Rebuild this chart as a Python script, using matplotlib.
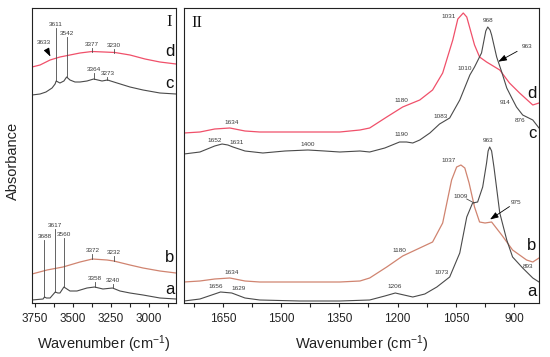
import matplotlib
matplotlib.use("Agg")
import matplotlib.pyplot as plt
from matplotlib.ticker import MultipleLocator

plt.rcParams['font.family'] = ['Liberation Sans', 'DejaVu Sans']
plt.rcParams['mathtext.fontset'] = 'custom'
plt.rcParams['mathtext.rm'] = 'Liberation Sans'
plt.rcParams['mathtext.it'] = 'Liberation Sans:italic'

# ---------------- Panel I (OH region) ----------------
wn_I_d = [3770, 3717, 3651, 3586, 3520, 3454, 3375, 3296, 3224, 3125, 3026, 2928, 2822]
abs_I_d = [236, 238, 243, 246, 248, 250, 251.5, 251, 250.5, 248, 244, 241, 239]

wn_I_c = [3770, 3717, 3678, 3638, 3618, 3611, 3586, 3560, 3542, 3520, 3487, 3454, 3408,
          3364, 3309, 3273, 3210, 3125, 3039, 2928, 2822]
abs_I_c = [208, 209, 211, 215, 219, 222, 220, 222, 226, 223, 221, 221, 222,
           224, 222, 223, 220, 216, 213, 210, 209]

wn_I_b = [3770, 3671, 3566, 3454, 3372, 3276, 3232, 3125, 3039, 2928, 2822]
abs_I_b = [29, 33, 36, 41, 44, 43, 42, 38, 35, 32, 30]

wn_I_a = [3770, 3697, 3688, 3675, 3651, 3617, 3600, 3586, 3560, 3520, 3474, 3408, 3358,
          3303, 3240, 3191, 3125, 3039, 2928, 2822]
abs_I_a = [3, 4, 6, 5, 5, 11, 10, 10, 16, 12, 12, 15, 16,
           14, 15, 12, 10, 8, 5, 4]

# ---------------- Panel II (fingerprint region) ----------------
wn_II_d = [1750, 1709, 1671, 1632, 1593, 1555, 1452, 1349, 1297, 1272, 1228, 1187, 1143,
           1110, 1084, 1058, 1045, 1031, 1022, 1012, 1002, 989, 971, 937, 912, 886, 852, 836]
abs_II_d = [170, 171, 174, 175, 172, 171, 171, 171, 173, 175, 186, 196, 203,
            213, 230, 263, 284, 290, 286, 272, 258, 246, 241, 233, 220, 210, 198, 200]

wn_II_c = [1750, 1709, 1671, 1652, 1637, 1624, 1593, 1547, 1490, 1431, 1388, 1349, 1297,
           1272, 1233, 1195, 1177, 1161, 1143, 1117, 1092, 1066, 1040, 1014, 1002, 984,
           973, 968, 962, 958, 945, 932, 919, 906, 894, 878, 852, 836]
abs_II_c = [149, 151, 157, 159, 158, 156, 152, 150, 152, 153, 152, 151, 152,
            151, 155, 161, 161, 160, 163, 170, 179, 185, 203, 228, 236, 250,
            272, 276, 273, 268, 246, 231, 215, 205, 196, 188, 183, 175]

wn_II_b = [1750, 1709, 1671, 1632, 1593, 1555, 1452, 1349, 1297, 1272, 1228, 1187, 1143,
           1110, 1084, 1061, 1048, 1037, 1027, 1016, 1002, 989, 975, 958, 932, 904, 868,
           852, 836]
abs_II_b = [21, 22, 24, 25, 22, 21, 21, 21, 22, 25, 36, 47, 55,
            61, 80, 123, 136, 138, 135, 120, 96, 81, 80, 81, 68, 53, 43,
            41, 45]

wn_II_a = [1750, 1709, 1671, 1656, 1627, 1593, 1555, 1452, 1349, 1272, 1233, 1206, 1195,
           1161, 1130, 1099, 1066, 1040, 1022, 1007, 994, 981, 971, 967, 963, 958, 952,
           937, 919, 904, 878, 852, 836]
abs_II_a = [2, 4, 9, 11, 10, 5, 3, 2, 2, 3, 7, 10, 9,
            6, 9, 16, 26, 50, 86, 100, 101, 116, 140, 152, 156, 152, 136,
            90, 63, 46, 35, 25, 21]

xticks_I = [3750, 3500, 3250, 3000]
xticks_II = [1650, 1500, 1350, 1200, 1050, 900]

GRAY = '#4a4a4a'
RED_D = '#f0506a'
RED_B = '#d08470'
LBL = '#3a3a3a'

fig = plt.figure(figsize=(5.5, 3.57), dpi=100)
axI = fig.add_axes([32/550, 1-303/357, 144/550, 295/357])
axII = fig.add_axes([184/550, 1-303/357, 355/550, 295/357])

axI.plot(wn_I_d, abs_I_d, color=RED_D, lw=0.9)
axI.plot(wn_I_c, abs_I_c, color=GRAY, lw=0.8)
axI.plot(wn_I_b, abs_I_b, color=RED_B, lw=0.9)
axI.plot(wn_I_a, abs_I_a, color=GRAY, lw=0.8)

axII.plot(wn_II_d, abs_II_d, color=RED_D, lw=0.9)
axII.plot(wn_II_c, abs_II_c, color=GRAY, lw=0.8)
axII.plot(wn_II_b, abs_II_b, color=RED_B, lw=0.9)
axII.plot(wn_II_a, abs_II_a, color=GRAY, lw=0.8)

axI.set_xlim(3770, 2822)
axII.set_xlim(1750, 836)
for ax in (axI, axII):
    ax.set_ylim(0, 295)
    ax.set_yticks([])
    ax.tick_params(axis='x', which='both', direction='out', length=3, width=0.8,
                   labelsize=8.5, pad=4.5, colors='#222222')
    ax.set_xlabel(r'Wavenumber (cm$^{\mathregular{-1}}$)', fontsize=10.5, labelpad=6,
                  color='#222222')
    for s in ax.spines.values():
        s.set_linewidth(0.8)
        s.set_color('#222222')

axI.set_xticks(xticks_I)
axI.xaxis.set_minor_locator(MultipleLocator(125))
axII.set_xticks(xticks_II)
axII.xaxis.set_minor_locator(MultipleLocator(75))

fig.text(13/550, 1-161/357, 'Absorbance', rotation=90, ha='center', va='center',
         fontsize=10.5, color='#222222')

FS = 4.6

def vline_label(ax, txt, x, ytxt, ycurve):
    ax.text(x, ytxt, txt, ha='center', va='bottom', fontsize=FS, color=LBL)
    ax.plot([x, x], [ytxt - 1, ycurve], color=GRAY, lw=0.6)

def label(ax, txt, x, y, fs=FS, **kw):
    ax.text(x, y, txt, ha='center', va='center', fontsize=fs, color=kw.pop('color', LBL), **kw)

# Panel I annotations
vline_label(axI, '3611', 3611, 276, 222)
vline_label(axI, '3542', 3542, 267, 226)
vline_label(axI, '3377', 3377, 256, 251.5)
vline_label(axI, '3230', 3230, 255, 250.5)
vline_label(axI, '3364', 3364, 231, 224)
vline_label(axI, '3273', 3273, 227, 223)
vline_label(axI, '3688', 3688, 64, 6)
vline_label(axI, '3617', 3617, 75, 11)
vline_label(axI, '3560', 3560, 66, 16)
vline_label(axI, '3372', 3372, 50, 44)
vline_label(axI, '3232', 3232, 48, 42)
vline_label(axI, '3358', 3358, 22, 16)
vline_label(axI, '3240', 3240, 20, 15)
label(axI, '3633', 3691, 260)
axI.annotate('', xy=(3640, 244), xytext=(3682, 256),
             arrowprops=dict(arrowstyle='-|>,head_length=0.5,head_width=0.18',
                             color='black', lw=0.6))
label(axI, 'd', 2865, 251, fs=12, color='#111111')
label(axI, 'c', 2865, 220, fs=12, color='#111111')
label(axI, 'b', 2865, 45, fs=12, color='#111111')
label(axI, 'a', 2865, 14, fs=12, color='#111111')
axI.text(2870, 281, 'I', ha='center', va='center', fontsize=12,
         family=['Liberation Serif', 'DejaVu Serif'], color='#111111')

# Panel II annotations
label(axII, '1634', 1627, 180)
label(axII, '1652', 1671, 163)
label(axII, '1631', 1615, 160)
label(axII, '1400', 1431, 159)
label(axII, '1180', 1189, 203)
label(axII, '1190', 1189, 168)
label(axII, '1083', 1089, 186)
label(axII, '1010', 1027, 235)
label(axII, '1031', 1068, 287)
label(axII, '968', 966, 283)
label(axII, '963', 868, 256)
axII.annotate('', xy=(947, 240), xytext=(886, 253),
              arrowprops=dict(arrowstyle='-|>,head_length=0.5,head_width=0.18',
                              color='black', lw=0.6))
label(axII, '914', 924, 201)
label(axII, '876', 886, 182)
label(axII, '1634', 1627, 31)
label(axII, '1656', 1668, 16)
label(axII, '1629', 1609, 14)
label(axII, '1180', 1195, 53)
label(axII, '1206', 1207, 17)
label(axII, '1073', 1086, 30)
label(axII, '1037', 1068, 143)
label(axII, '963', 966, 162)
label(axII, '1009', 1037, 106)
axII.plot([1022, 1003], [104, 100], color=GRAY, lw=0.6)
label(axII, '975', 894, 100)
axII.annotate('', xy=(968, 82), xytext=(906, 98),
              arrowprops=dict(arrowstyle='-|>,head_length=0.5,head_width=0.18',
                              color='black', lw=0.6))
label(axII, '893', 865, 36)
label(axII, 'd', 855, 209, fs=12, color='#111111')
label(axII, 'c', 852, 170, fs=12, color='#111111')
label(axII, 'b', 855, 57, fs=12, color='#111111')
label(axII, 'a', 855, 11, fs=12, color='#111111')
axII.text(1717, 280, 'II', ha='center', va='center', fontsize=12,
          family=['Liberation Serif', 'DejaVu Serif'], color='#111111')

fig.savefig('out.png', dpi=100)
